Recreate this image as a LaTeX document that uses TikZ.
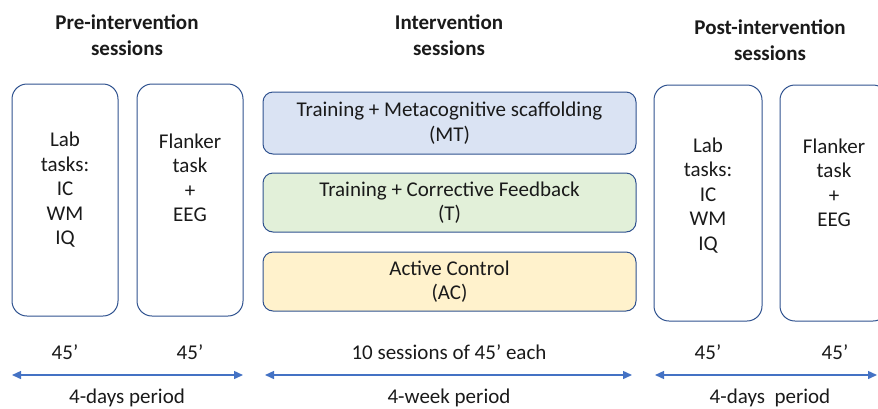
\documentclass[tikz,border=0pt]{standalone}
\usepackage{fontspec}
\setmainfont{Carlito}
\usepackage{xcolor}
\usetikzlibrary{arrows.meta,positioning,calc}
\definecolor{boxline}{HTML}{2F528F}
\definecolor{arrowblue}{HTML}{4472C4}
\definecolor{mtfill}{HTML}{DAE3F3}
\definecolor{tfill}{HTML}{E2F0D9}
\definecolor{acfill}{HTML}{FFF2CC}
\definecolor{txt}{HTML}{1A1A1A}
\tikzset{
  bodyfont/.style={font=\fontsize{21}{24.5}\selectfont, text=txt},
  headtext/.style={font=\bfseries\fontsize{21}{26}\selectfont, text=txt, align=center},
  phasebox/.style={draw=boxline, line width=1pt, rounded corners=15pt, minimum width=106pt, minimum height=232pt},
  groupbox/.style={draw=boxline, line width=1pt, rounded corners=10pt, minimum width=373pt, bodyfont, align=center, inner sep=0pt},
  boxtext/.style={bodyfont, align=center},
  period/.style={draw=arrowblue, line width=1.4pt, {Triangle[length=9pt,width=8pt]}-{Triangle[length=9pt,width=8pt]}}
}
\begin{document}
\begin{tikzpicture}[x=1pt,y=-1pt]
  \useasboundingbox (0,0) rectangle (878,408);
  \clip (0,0) rectangle (878,408); % 右侧方框被裁掉一部分
  % 标题
  \node[headtext] (prehead) at (127,35) {Pre-intervention\\sessions};
  \node[headtext] (inthead) at (449,35) {Intervention\\sessions};
  \node[headtext] (posthead) at (770,40) {Post-intervention\\sessions};
  % 前测
  \node[phasebox] (pre1) at (65,200) {};
  \node[boxtext] (pre1t) at ([yshift=10pt]pre1.center) {Lab\\tasks:\\IC\\WM\\IQ};
  \node[phasebox] (pre2) at (190,200) {};
  \node[boxtext] (pre2t) at ([yshift=22pt]pre2.center) {Flanker\\task\\+\\EEG};
  % 干预组
  \node[groupbox, fill=mtfill, minimum height=62pt] (mt) at (449.5,123) {Training + Metacognitive scaffolding\\(MT)};
  \node[groupbox, fill=tfill, minimum height=59pt] (tr) at (449.5,202.5) {Training + Corrective Feedback\\(T)};
  \node[groupbox, fill=acfill, minimum height=59pt] (ac) at (449.5,281.5) {Active Control\\(AC)};
  % 后测
  \node[phasebox, minimum width=108pt, minimum height=236pt] (post1) at (708,203) {};
  \node[boxtext] (post1t) at ([yshift=7.5pt]post1.center) {Lab\\tasks:\\IC\\WM\\IQ};
  \node[phasebox, minimum width=108pt, minimum height=236pt] (post2) at (834,203) {};
  \node[boxtext] (post2t) at ([yshift=20pt]post2.center) {Flanker\\task\\+\\EEG};
  % 时长
  \node[bodyfont] (d1) at (65,352) {45’};
  \node[bodyfont] (d2) at (190,352) {45’};
  \node[bodyfont] (d3) at (449,352) {10 sessions of 45’ each};
  \node[bodyfont] (d4) at (708,352) {45’};
  \node[bodyfont] (d5) at (835,352) {45’};
  % 时间段箭头
  \coordinate (p1s) at (12,375);  \coordinate (p1e) at (243,375);
  \coordinate (p2s) at (265,375); \coordinate (p2e) at (632,375);
  \coordinate (p3s) at (655,375); \coordinate (p3e) at (877,375);
  \draw[period] (p1s) -- (p1e);
  \draw[period] (p2s) -- (p2e);
  \draw[period] (p3s) -- (p3e);
  \node[bodyfont] (l1) at (127,398) {4-days period};
  \node[bodyfont] (l2) at (449,398) {4-week period};
  \node[bodyfont] (l3) at (770,398) {4-days\ \ period};
\end{tikzpicture}
\end{document}
